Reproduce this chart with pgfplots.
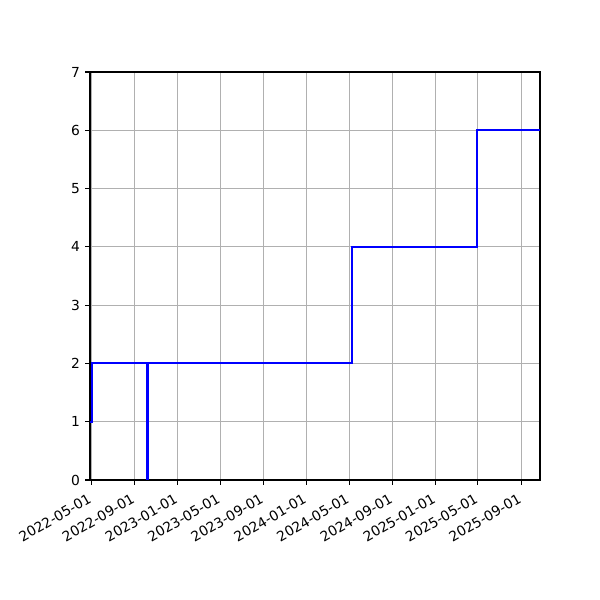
\documentclass[border=0pt]{standalone}
\usepackage{pgfplots}
\pgfplotsset{compat=1.18}
\usepackage{fontspec}
\setmainfont{DejaVu Sans}
\begin{document}
\begin{tikzpicture}
\begin{axis}[
    scale only axis,
    width=325.2pt,
    height=294.84pt,
    xmin=-3.7, xmax=1272,
    ymin=0, ymax=7,
    xtick={0,123,245,365,488,610,731,854,976,1096,1219},
    xticklabels={2022-05-01,2022-09-01,2023-01-01,2023-05-01,2023-09-01,2024-01-01,2024-05-01,2024-09-01,2025-01-01,2025-05-01,2025-09-01},
    ytick={0,1,2,3,4,5,6,7},
    xtick pos=left, ytick pos=left,
    tick align=outside,
    major tick length=3.5pt,
    tick style={black, line width=0.8pt},
    axis line style={line width=0.8pt},
    grid=major,
    major grid style={color=black!31, line width=0.8pt},
    /pgf/number format/assume math mode=true,
    tick label style={font=\fontsize{10pt}{12pt}\selectfont},
    xticklabel style={rotate=30, anchor=north east, inner sep=0pt, xshift=-5.5pt, yshift=-3.5pt},
    yticklabel style={inner sep=0pt, xshift=-3.5pt},
]
\addplot[const plot mark left, color=blue, line width=1.5pt] coordinates {
    (-3.7,1) (1,2) (158.8,0) (159.3,2) (738,4) (1094,6) (1272,6)
};
\end{axis}
\path ([shift={(-65.04pt,-86.72pt)}]current axis.south west) rectangle ([shift={(43.36pt,52.03pt)}]current axis.north east);
\end{tikzpicture}
\end{document}
